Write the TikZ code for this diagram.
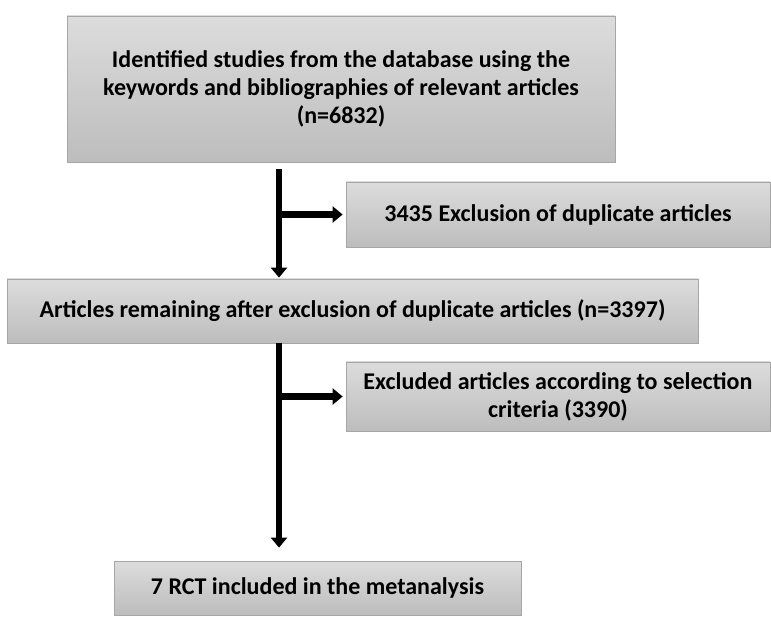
\documentclass[tikz,border=0pt]{standalone}
\usepackage{fontspec}
\setmainfont{Carlito}
\usetikzlibrary{arrows.meta}
\definecolor{boxtop}{HTML}{DCDCDC}
\definecolor{boxbottom}{HTML}{BDBDBD}
\definecolor{boxline}{HTML}{A6A6A6}

\begin{document}
\begin{tikzpicture}[x=1pt,y=1pt,
        stage/.style={draw=boxline,line width=0.8pt,top color=boxtop,
          bottom color=boxbottom,align=center,inner sep=2pt,
          font=\fontsize{24}{28}\selectfont\bfseries},
        flow/.style={line width=6.5pt,-{Triangle[length=10pt,width=16pt]}}]
        \useasboundingbox (0,0) rectangle (771,-617);
        % Boxes are placed at the centres they have in the flow chart.
        \node[stage,minimum width=548,minimum height=146] (ident) at (341,-89)
          {Identified studies from the database using the\\
           keywords and bibliographies of relevant articles\\(n=6832)};
        \node[stage,minimum width=424,minimum height=65] (dupl) at (558,-214.5)
          {3435 Exclusion of duplicate articles};
        \node[stage,minimum width=691,minimum height=64] (remain) at (352.5,-311)
          {Articles remaining after exclusion of duplicate articles (n=3397)};
        \node[stage,minimum width=424,minimum height=69] (excl) at (558,-396.5)
          {Excluded articles according to selection\\criteria (3390)};
        \node[stage,minimum width=407,minimum height=54] (incl) at (317.5,-588)
          {7 RCT included in the metanalysis};
        \coordinate (trunk) at (279,0);
        % Main line with a side branch to each exclusion box.
        \draw[flow,shorten <=7pt,shorten >=1pt] (ident.south -| trunk) -- (remain.north -| trunk);
        \draw[flow,shorten >=3pt] ([xshift=-3pt]dupl.west -| trunk) -- (dupl.west);
        \draw[flow,shorten >=13pt] (remain.south -| trunk) -- (incl.north -| trunk);
        \draw[flow,shorten >=3pt] ([xshift=-3pt]excl.west -| trunk) -- (excl.west);
      \end{tikzpicture}
\end{document}
